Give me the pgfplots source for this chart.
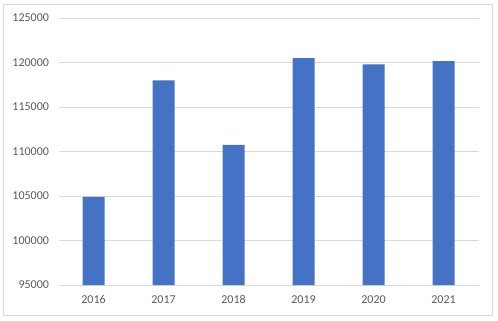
\documentclass[border=0pt]{standalone}
\usepackage{pgfplots}
\pgfplotsset{compat=1.18}
\usepackage{fontspec}
\setmainfont{Carlito}
\definecolor{barblue}{HTML}{4472C4}
\definecolor{gridgray}{HTML}{D9D9D9}
\definecolor{labelgray}{HTML}{595959}
\definecolor{framegray}{HTML}{D9D9D9}
\begin{document}
\begin{tikzpicture}[x=1bp,y=1bp]
\path[use as bounding box] (0,0) rectangle (498,320);
\draw[framegray, line width=0.75bp] (3.5,4.5) rectangle (492.5,316);
\begin{axis}[
  at={(58.5bp,35bp)}, anchor=south west,
  scale only axis, width=420bp, height=267bp,
  xmin=-0.5, xmax=5.5, ymin=95000, ymax=125000,
  ytick={95000,100000,105000,110000,115000,120000,125000},
  yticklabels={95000,100000,105000,110000,115000,120000,125000},
  xtick={0,1,2,3,4,5},
  xticklabels={2016,2017,2018,2019,2020,2021},
  scaled y ticks=false,
  axis line style={draw=none},
  major tick length=0pt,
  ymajorgrids, major grid style={gridgray, line width=0.75bp},
  tick label style={font=\fontsize{12bp}{14bp}\selectfont, text=labelgray},
  yticklabel style={xshift=-6bp},
  xticklabel style={yshift=-7bp},
  ybar, bar width=22bp,
  clip=false,
]
\addplot[fill=barblue, draw=none] coordinates {
 (0,104900) (1,118000) (2,110750) (3,120500) (4,119800) (5,120150)
};
\end{axis}
\end{tikzpicture}
\end{document}
